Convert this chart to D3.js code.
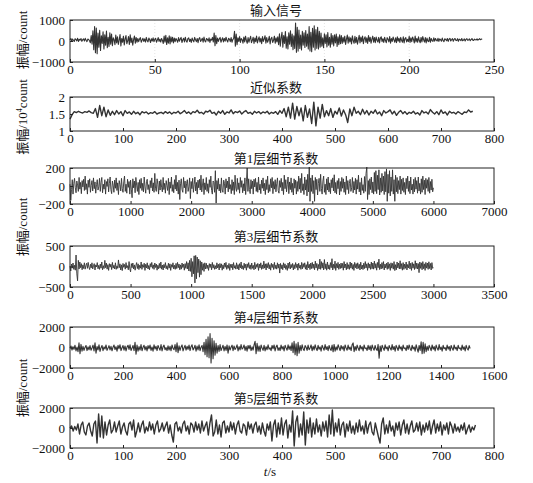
<!DOCTYPE html>
<html><head><meta charset="utf-8">
<script src="https://cdn.jsdelivr.net/npm/d3@7/dist/d3.min.js"></script>
<style>body{margin:0;background:#fff}svg{display:block}</style>
</head><body>
<svg id="c" width="533" height="483"></svg>
<script>
// ---------------- data ----------------
const titles = ["输入信号","近似系数","第1层细节系数","第3层细节系数","第4层细节系数","第5层细节系数"];
const xDomains = [[0,250],[0,800],[0,7000],[0,3500],[0,1600],[0,800]];
const yDomains = [[-1000,1000],[1,2],[-200,200],[-500,500],[-2000,2000],[-2000,2000]];
const xTicks = [[0,50,100,150,200,250],[0,100,200,300,400,500,600,700,800],[0,1000,2000,3000,4000,5000,6000,7000],[0,500,1000,1500,2000,2500,3000,3500],[0,200,400,600,800,1000,1200,1400,1600],[0,100,200,300,400,500,600,700,800]];
const yTicks = [[-1000,0,1000],[1,1.5,2],[-200,0,200],[-500,0,500],[-2000,0,2000],[-2000,0,2000]];
const tEnds = [243,760,6000,3000,1510,765];

const inputSignal = [
60,120,-10,95,30,-25,110,70,5,130,-20,80,45,115,-15,60,100,0,125,35,-30,90,70,10,
-80,260,-150,480,-420,690,-560,620,
-610,380,-300,510,-450,250,-120,440,-380,300,-200,470,-320,180,-260,390,-150,330,
-220,150,60,-180,280,-90,200,-160,40,310,-240,120,-60,230,-190,90,260,-130,10,210,-170,300,-80,140,-200,60,240,-110,170,-60,
120,-30,90,160,-60,40,130,-20,100,-50,170,20,-40,140,60,-70,110,0,150,-30,80,130,-60,50,160,-20,90,-50,120,30,
-120,230,-60,270,-170,150,-100,250,-140,200,-40,180,-90,140,
-30,120,40,-60,160,-10,90,170,-70,60,130,-40,180,0,-50,110,150,-20,80,-70,140,30,-40,170,60,-30,120,-80,100,160,-20,50,130,-60,190,10,-40,120,80,-10,150,-70,90,40,170,-50,
380,-220,260,-130,
140,-20,100,170,-60,60,150,-40,120,-10,180,30,-50,130,90,-30,160,-60,70,120,
460,-250,330,-180,
150,-20,210,-70,120,60,-100,190,-40,230,20,-110,160,-60,100,220,-80,30,180,-120,140,-30,240,-90,70,200,-50,130,-130,210,-20,90,250,-100,160,-60,40,220,-140,110,180,-70,30,230,-110,150,-40,200,
-180,340,-250,150,420,-300,260,-120,450,-340,200,-380,390,-150,480,-260,330,-420,250,-350,
860,-540,650,-480,
520,-360,280,-430,460,-200,390,-310,500,-250,330,-380,
690,-470,420,-510,600,-300,720,-430,540,-350,650,-380,460,-300,
380,-250,150,-320,340,-120,290,-280,400,-200,180,-300,350,-150,260,-230,300,-90,330,-260,200,-180,290,-130,
260,-120,180,-60,230,-160,90,280,-100,200,-40,150,-140,250,20,-110,220,-80,170,-150,60,270,-90,190,-30,240,-130,110,200,-70,150,-120,260,-20,180,-100,90,230,-60,160,
-80,190,40,-50,170,-90,140,200,-30,110,-70,180,20,-80,160,80,-40,210,-100,120,-20,190,60,-60,150,-80,200,-10,130,-70,170,30,-60,200,-90,110,160,-40,80,-30,
220,-70,150,-30,190,80,-90,230,-40,120,-60,200,10,-80,170,-40,210,60,-50,160,-90,140,0,-30,180,-60,120,20,-20,150,
-10,120,40,0,130,-20,100,60,-10,140,20,-30,110,70,10,120,-20,90,130,0,60,110,-10,80,120,30,20,110,-10,90,60,20,120,10,40,100,0,80,110,30,50,100,10,70,120,40,30,90,60,50,100,40,70,110,60,80,110
];

const approxCoef = [
1.35,1.48,1.57,1.54,1.58,1.55,1.53,1.57,1.55,1.59,1.54,
1.52,1.66,1.40,1.75,1.45,1.70,1.42,1.62,1.46,1.58,
1.48,1.60,1.50,1.57,1.45,1.60,1.52,1.56,1.49,1.58,
1.51,1.55,1.48,1.57,1.53,1.56,1.50,1.54,1.52,1.57,
1.50,1.53,1.55,1.51,1.57,1.52,1.56,1.50,1.55,1.53,
1.58,1.51,1.55,1.60,1.52,1.56,1.50,1.57,1.54,1.61,
1.53,1.55,1.50,1.58,1.56,1.61,1.52,1.55,1.47,1.58,
1.52,1.60,1.49,1.56,1.53,1.62,1.51,1.57,1.54,1.59,
1.50,1.56,1.60,1.52,1.55,1.49,1.58,1.53,1.57,1.51,
1.56,1.53,1.58,1.50,1.55,1.52,1.57,1.49,1.60,1.52,
1.66,1.42,1.70,1.38,1.82,1.35,1.72,1.45,1.68,1.30,
1.75,1.40,1.65,1.22,1.85,1.15,1.70,1.38,1.78,1.42,
1.60,1.45,1.66,1.40,1.58,1.50,1.68,1.44,1.62,1.48,
1.25,1.65,1.45,1.70,1.52,1.58,1.48,1.64,1.50,1.60,
1.47,1.58,1.52,1.62,1.50,1.56,1.45,1.60,1.53,1.57,
1.62,1.50,1.58,1.46,1.55,1.60,1.51,1.57,1.49,1.55,
1.52,1.58,1.50,1.54,1.47,1.60,1.53,1.56,1.50,1.63,
1.55,1.50,1.57,1.48,1.62,1.52,1.56,1.47,1.58,1.53,
1.55,1.50,1.57,1.53,1.49,1.56,1.54,1.62,1.56,1.58
];

const detail1 = [
20,-160,-40,70,-90,30,85,-20,-75,55,10,-60,95,-35,40,-85,60,-10,75,-50,
110,-40,25,-90,65,-15,80,-70,5,60,-55,90,-30,45,-80,15,70,-45,-10,85,
-60,40,95,-75,20,-35,70,-90,50,-5,80,-65,30,100,-40,-85,55,10,-70,65,
-25,90,-50,35,-95,60,15,-55,85,-30,-70,45,110,-60,20,-80,75,-15,50,-90,
65,-35,-130,80,-20,55,-75,95,10,-60,40,-95,70,-25,85,-50,30,-65,100,-10,
-80,50,75,-40,15,-85,60,-20,90,-55,35,-70,140,-30,-60,80,20,-90,55,-45,
70,-15,-65,95,-40,30,-80,60,5,-50,85,-95,45,-25,100,-60,15,-75,70,-35,
120,-55,40,-90,65,-150,25,80,-40,-70,95,-20,55,-85,30,70,-60,-10,90,-140,
50,-30,85,-70,15,100,-55,40,-90,65,-20,75,-45,120,-65,10,80,-95,35,-40,
95,-60,25,-80,70,-15,110,-50,-90,55,40,-70,170,-190,60,-35,85,-55,20,-75,
90,-45,-70,65,30,-90,80,-20,55,-65,100,-35,15,-85,70,-50,45,-95,120,-25,
-60,85,-40,35,-80,95,-15,60,-75,25,-55,90,-95,45,200,-60,80,-40,-85,70,
-30,55,-90,75,-10,85,-60,40,-70,100,-45,20,-85,65,-25,90,-55,30,-95,70,
-40,110,-75,15,-60,80,-20,95,-85,50,-35,70,-65,25,90,-50,-80,60,-15,85,
-55,40,-95,120,-30,70,-65,20,100,-85,45,-40,90,-70,30,-100,80,-25,65,-90,
50,-60,110,-35,85,-75,140,-50,25,-95,100,-45,70,-110,130,-65,210,-170,90,-60,
120,-85,60,-170,95,-40,75,-100,30,85,-60,130,-30,-90,55,110,-70,20,-95,80,
-45,100,-65,35,-85,70,-20,90,-55,125,-75,40,-90,60,-30,85,-100,50,-60,95,
-25,80,-70,45,-95,110,-40,60,-85,30,75,-60,-20,95,-75,50,-45,85,-90,70,
-35,120,-65,40,-100,90,-50,15,-80,105,-60,140,210,-150,60,-95,80,-40,100,-75,
45,-90,150,-60,170,-85,120,-40,180,-100,90,-70,140,-55,110,-95,160,-65,190,-170,
130,-80,170,-110,100,-60,180,-90,70,-170,120,-65,95,-85,60,-40,110,-90,75,-50,
90,-70,40,-95,85,-30,110,-60,55,-85,100,-45,20,-90,75,-65,95,-35,60,-80,
100,-55,30,-90,80,-70,110,-40,65,-95,85,-25,70,-60,95,-80,50,-45,75,-65,
-20
];

const detail3 = [
10,-110,60,-40,85,-70,30,-90,280,-180,-350,150,-60,110,-30,70,-80,40,-50,90,
-65,25,80,-45,100,-20,-75,55,-35,90,-60,15,70,-85,40,-10,95,-55,30,-70,
60,-40,110,-80,20,-50,150,-30,85,-65,45,-95,70,-15,55,-75,100,-40,30,-60,
90,-70,15,-45,160,-30,65,-85,40,-100,75,-20,50,-65,95,-35,20,-80,120,-55,
-130,70,-30,85,-60,40,-90,20,95,-50,65,-75,30,-40,110,-70,45,-20,80,-95,
55,-35,90,-60,25,-80,70,-15,100,-45,40,-70,85,-25,60,-90,30,-55,75,-40,
110,-65,35,-85,50,-30,95,-55,20,-75,80,-40,65,-95,45,-20,90,-60,30,-70,
75,-50,100,-30,60,-80,40,-65,85,-25,55,-90,70,-45,120,-60,90,-110,150,-120,
200,-250,120,-180,260,-400,270,-300,230,-150,180,-260,140,-200,110,-90,70,-120,90,-60,
80,-50,35,-95,70,-25,60,-80,100,-40,45,-70,20,-60,90,-35,55,-85,75,-30,
65,-90,40,-55,85,-20,100,-70,30,-45,75,-95,50,-30,60,-80,95,-40,25,-65,
90,-55,45,-85,70,-35,110,-60,20,-75,80,-40,55,-90,65,-25,95,-50,40,-70,
85,-45,30,-80,100,-60,50,-20,75,-95,60,-35,90,-70,40,-55,130,-40,65,-85,
70,-30,95,-60,45,-90,80,-25,55,-75,100,-50,35,-65,90,-40,60,-160,75,-55,
40,-80,90,-35,65,-70,25,-95,85,-45,110,-60,50,-30,75,-85,45,-55,95,-25,
60,-90,80,-40,35,-70,100,-55,70,-20,90,-65,45,-85,120,-35,55,-75,85,-50,
100,-45,60,-80,130,-35,75,-95,50,-60,180,-70,120,-40,90,-85,170,-55,65,-90,
110,-60,40,-75,95,-30,190,-85,55,-45,130,-95,70,-35,100,-70,60,-50,85,-40,
75,-90,120,-35,60,-80,95,-55,45,-70,110,-40,85,-65,50,-95,100,-30,70,-60,
90,-45,55,-85,105,-60,35,-75,80,-50,120,-35,65,-95,90,-40,60,-70,110,-55,
85,-65,130,-40,70,-90,100,-30,180,-75,55,-60,95,-45,120,-85,60,-35,80,-70,
105,-50,65,-95,90,-40,75,-65,120,-100,45,-80,110,-35,85,-60,140,-55,70,-90,
95,-70,60,-45,110,-85,50,-35,130,-60,80,-95,100,-40,65,-75,140,-50,85,-60,
70,-150,110,-45,90,-80,120,-55,65,-95,100,-40,85,-70,115,-50,75,-85,95,-45,
-30
];

const detail4 = [
-50,150,-250,80,-180,220,-330,40,-400,450,-600,300,-350,120,-280,10,200,-300,60,-220,
180,-260,-40,230,-330,450,-550,100,-240,260,-380,-20,200,-310,60,-150,250,-280,-60,180,
-240,120,-320,30,240,-200,80,-360,210,-120,270,-300,-30,190,-260,150,-340,40,220,-180,
260,-290,-60,200,-300,500,-650,230,-350,90,-250,280,-320,20,210,-240,100,-330,180,-120,
240,-280,50,-360,260,-150,120,-300,200,-40,-260,290,-340,60,230,-220,-10,-300,170,-250,
120,-320,250,-80,-220,280,-400,450,-500,160,-280,60,250,-330,-30,210,-260,120,-180,240,
-300,80,260,-240,-60,220,-350,140,-230,270,-310,30,200,-400,500,-700,800,-900,1050,-1000,
1350,-1500,900,-1100,650,-750,400,-550,200,-380,280,-300,-40,220,-330,100,-280,250,-550,160,
-240,20,230,-310,150,-200,-20,260,-330,90,-240,280,-150,-30,240,-290,110,-350,200,-120,
220,-300,60,-250,250,600,-600,400,-350,150,-380,240,-60,-280,210,-330,80,-220,260,-170,
-30,-310,200,-120,250,-330,60,230,-280,-10,-300,240,-160,110,-340,220,-40,-270,260,-190,
150,-300,450,-500,600,-700,350,-800,500,-550,200,-320,270,-120,-300,180,20,-280,240,-210,
-40,250,-320,120,-230,270,-80,-300,210,-170,60,-350,220,-30,-260,280,-190,90,-310,200,
-120,-280,240,-420,300,-350,60,-240,270,-20,-300,200,-160,110,-330,250,-60,-270,230,-180,
40,-300,260,450,-400,100,-280,230,-50,-310,220,-150,80,-340,250,-110,-30,-290,210,-200,
160,-320,240,-70,-260,200,-150,-300,300,-1050,150,-380,220,-40,-280,260,-130,60,-320,190,
-60,-250,280,-200,100,-350,210,-20,-290,240,-140,70,-320,230,-110,-40,-300,200,-180,250,
-90,-300,220,-150,60,-360,270,-100,-450,200,-280,550,-600,500,-550,350,-400,120,-280,210,
-30,-310,250,-170,90,-330,230,-60,-270,280,-190,40,-350,210,-120,-20,-290,240,-160,100,
-320,200,-70,-260,250,-140,30,-300,220,-110,-40,-280,230,-180,70,-330,210,-90,-250,180,
-100
];

const detail5 = [
0,200,-300,150,-200,400,-600,300,600,-400,-700,200,500,-300,-800,400,700,-1500,1400,-900,
1200,-1000,600,-700,300,800,-500,-200,600,-400,200,700,-600,100,500,-300,-700,400,600,-200,
800,-900,-300,500,-400,300,700,-500,100,-300,600,-200,400,-600,300,700,-400,-100,500,-300,
200,600,-500,300,-700,-1400,400,600,-300,100,-500,400,700,-300,200,-600,500,300,-400,600,
-200,400,-500,700,-300,200,600,-700,500,1300,-800,-400,800,-600,300,-900,500,700,-500,200,
-400,600,-200,500,-600,300,700,-300,-500,400,200,-700,600,-100,400,-500,300,600,-400,200,
-600,500,-300,-800,400,-200,600,-1300,300,800,-900,500,-600,1000,-700,400,800,-1000,300,-400,
1700,-1800,600,1200,-900,400,-700,1600,-1700,800,-500,1000,-900,500,-600,900,-400,300,-800,600,
-300,700,-900,1300,-600,1800,-800,500,-400,900,-700,300,600,-900,400,-300,700,-500,200,-600,
500,-400,800,-300,200,-600,700,-500,300,600,-400,-700,500,-200,-900,-1500,400,1000,-600,300,
-500,700,-300,200,-800,500,-200,600,-700,300,800,-500,400,-600,200,700,-400,-200,500,-300,
600,-700,300,-400,500,-200,700,-600,200,800,-500,400,-300,600,-700,300,-200,500,-600,600,
200,-500,400,-300,100,-400,300,-200,500,-600,-100,300,-400,100,-200,300
];

const seriesList = [inputSignal, approxCoef, detail1, detail3, detail4, detail5];

// ---------------- layout ----------------
const svg = d3.select("#c");
const xLeft = 70, xRight = 494;
const frames = [[20,62],[97,131],[168,204],[246,287],[327,368],[408,448]];
const strokeW = [1.1, 1.4, 0.9, 0.9, 1.1, 1.4];
const numFont = "'Liberation Serif','Times New Roman',serif";
const cjkFont = "'Liberation Serif','Noto Sans CJK SC',serif";
const fmt = d3.format("");

seriesList.forEach((vals, k) => {
  const [top, bottom] = frames[k];
  const x = d3.scaleLinear().domain(xDomains[k]).range([xLeft, xRight]);
  const y = d3.scaleLinear().domain(yDomains[k]).range([bottom, top]);
  const g = svg.append("g");

  if (k === 0) {
    g.selectAll("line.grid").data(xTicks[k].slice(1, -1)).join("line")
      .attr("x1", d => x(d)).attr("x2", d => x(d))
      .attr("y1", top).attr("y2", bottom)
      .attr("stroke", "#d0d0d0").attr("stroke-width", 0.6).attr("stroke-dasharray", "1,2");
  }

  const n = vals.length;
  const line = d3.line()
    .x((d, i) => x(i * tEnds[k] / (n - 1)))
    .y(d => y(d));
  g.append("path").datum(vals)
    .attr("d", line)
    .attr("fill", "none")
    .attr("stroke", "#333")
    .attr("stroke-width", strokeW[k])
    .attr("stroke-linejoin", "round");

  const xa = g.append("g").attr("transform", `translate(0,${bottom})`)
    .call(d3.axisBottom(x).tickValues(xTicks[k]).tickFormat(fmt).tickSize(-3).tickPadding(3));
  const ya = g.append("g").attr("transform", `translate(${xLeft},0)`)
    .call(d3.axisLeft(y).tickValues(yTicks[k]).tickFormat(fmt).tickSize(-3).tickPadding(5));
  [xa, ya].forEach(a => {
    a.select(".domain").remove();
    a.selectAll("line").attr("stroke", "#222");
    a.selectAll("text").attr("font-family", numFont).attr("font-size", 13).attr("fill", "#111");
  });

  g.append("rect").attr("x", xLeft).attr("y", top)
    .attr("width", xRight - xLeft).attr("height", bottom - top)
    .attr("fill", "none").attr("stroke", "#222").attr("stroke-width", 1);

  g.append("text").attr("x", 276).attr("y", top - 5)
    .attr("text-anchor", "middle").attr("font-family", cjkFont).attr("font-size", 13)
    .attr("fill", "#111").text(titles[k]);
});

// y-axis labels
const yLabels = [[40, false], [117, true], [227, false], [388, false]];
yLabels.forEach(([cy, pow]) => {
  const t = svg.append("text")
    .attr("transform", `translate(27,${cy}) rotate(-90)`)
    .attr("text-anchor", "middle")
    .attr("font-family", cjkFont).attr("font-size", 13).attr("fill", "#111");
  if (pow) {
    t.append("tspan").text("振幅/10");
    t.append("tspan").attr("font-size", 8).attr("dy", -5).text("4");
    t.append("tspan").attr("dy", 5).text("count");
  } else {
    t.text("振幅/count");
  }
});

// x-axis label
const xl = svg.append("text").attr("x", 270).attr("y", 476).attr("text-anchor", "middle")
  .attr("font-family", numFont).attr("font-size", 13).attr("fill", "#111");
xl.append("tspan").attr("font-style", "italic").text("t");
xl.append("tspan").text("/s");
</script>
</body></html>
